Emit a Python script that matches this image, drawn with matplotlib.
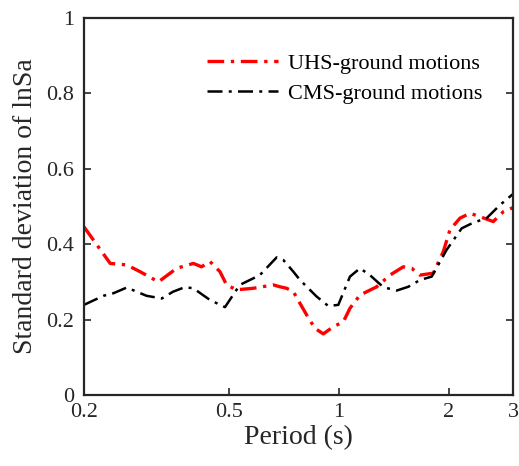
import matplotlib.pyplot as plt
from matplotlib.ticker import FixedLocator, NullLocator, FixedFormatter

plt.rcParams['font.family'] = ['Liberation Serif', 'DejaVu Serif']

uhs_T = [0.2, 0.236, 0.262, 0.285, 0.320, 0.359, 0.399, 0.420, 0.443, 0.472,
         0.492, 0.524, 0.582, 0.661, 0.689, 0.719, 0.750, 0.782, 0.816, 0.859,
         0.906, 0.965, 1.028, 1.072, 1.142, 1.269, 1.380, 1.501, 1.583, 1.668,
         1.814, 1.932, 2.015, 2.147, 2.286, 2.436, 2.649, 2.822, 3.0]
uhs_sd = [0.446, 0.349, 0.345, 0.327, 0.300, 0.336, 0.349, 0.340, 0.354, 0.327,
          0.292, 0.279, 0.283, 0.292, 0.287, 0.283, 0.274, 0.243, 0.212, 0.177,
          0.162, 0.181, 0.194, 0.230, 0.265, 0.287, 0.318, 0.340, 0.336, 0.318,
          0.323, 0.380, 0.438, 0.469, 0.482, 0.473, 0.460, 0.486, 0.497]

cms_T = [0.2, 0.226, 0.241, 0.262, 0.297, 0.327, 0.351, 0.378, 0.399, 0.443,
         0.487, 0.535, 0.607, 0.675, 0.704, 0.750, 0.782, 0.869, 0.935, 0.996,
         1.072, 1.142, 1.216, 1.323, 1.440, 1.549, 1.668, 1.796, 1.973, 2.170,
         2.334, 2.540, 2.764, 3.0]
cms_sd = [0.239, 0.263, 0.270, 0.285, 0.263, 0.256, 0.274, 0.286, 0.283, 0.252,
          0.233, 0.292, 0.318, 0.365, 0.358, 0.327, 0.305, 0.261, 0.236, 0.239,
          0.314, 0.336, 0.318, 0.286, 0.277, 0.287, 0.305, 0.314, 0.385, 0.442,
          0.457, 0.469, 0.504, 0.533]

xticks = [0.2, 0.5, 1, 2, 3]
xtick_labels = ['0.2', '0.5', '1', '2', '3']
yticks = [0, 0.2, 0.4, 0.6, 0.8, 1]
ytick_labels = ['0', '0.2', '0.4', '0.6', '0.8', '1']

fig = plt.figure(figsize=(5.19, 4.66), dpi=100)
ax = fig.add_axes([0.1618, 0.1524, 0.8266, 0.809])

ax.plot(uhs_T, uhs_sd, color='red', lw=2.4, dashes=(5, 2, 1, 2),
        label='UHS-ground motions')
ax.plot(cms_T, cms_sd, color='black', lw=1.8, dashes=(6, 2.5, 1.2, 2.5),
        label='CMS-ground motions')

ax.set_xscale('log')
ax.set_xlim(0.2, 3)
ax.set_ylim(0, 1)
ax.xaxis.set_major_locator(FixedLocator(xticks))
ax.xaxis.set_major_formatter(FixedFormatter(xtick_labels))
ax.xaxis.set_minor_locator(NullLocator())
ax.set_yticks(yticks)
ax.set_yticklabels(ytick_labels)

ax.tick_params(direction='in', length=5, width=1.2, labelsize=16,
               top=False, right=True, colors='#262626')
ax.tick_params(axis='x', pad=6)
ax.tick_params(axis='y', pad=7)
for s in ax.spines.values():
    s.set_linewidth(1.6)
    s.set_color('#262626')

ax.set_xlabel('Period (s)', fontsize=20, color='#262626', labelpad=2)
ax.set_ylabel('Standard deviation of lnSa', fontsize=20, color='#262626',
              labelpad=6)

ax.legend(loc='upper right', frameon=False, fontsize=16, handlelength=3.2,
          bbox_to_anchor=(0.975, 0.96), labelspacing=0.45, handletextpad=0.45)

fig.savefig('out.png', dpi=100)
